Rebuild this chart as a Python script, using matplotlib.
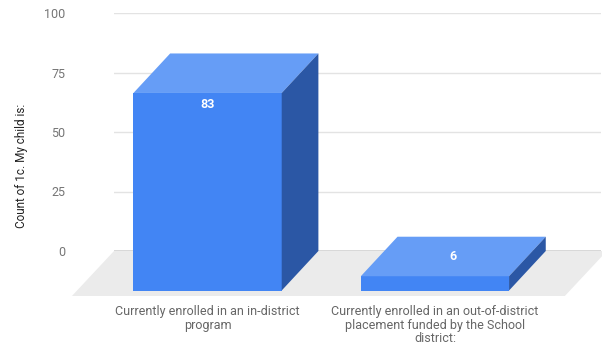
import matplotlib
matplotlib.use("Agg")
import matplotlib.pyplot as plt
from matplotlib.patches import Polygon

categories = [
    "Currently enrolled in an in-district\nprogram",
    "Currently enrolled in an out-of-district\nplacement funded by the School\ndistrict:",
]
counts = [83, 6]
y_ticks = [0, 25, 50, 75, 100]

FRONT = "#4285f4"
TOP = "#669df6"
SIDE = "#2b57a5"
FLOOR = "#ebebeb"

# depth of the 3d effect, in data units (back plane -> front plane)
depth_x, depth_y = 0.1614, 16.6
floor_dx, floor_dy = 0.185, 18.9
half_w = 0.326

plt.rcParams["font.family"] = ["Roboto", "DejaVu Sans"]

fig = plt.figure(figsize=(6.02, 3.46), dpi=100)
ax = fig.add_axes([114 / 602, 95 / 346, 487 / 602, 238 / 346])
ax.set_xlim(-0.573, 1.569)
ax.set_ylim(0, 100)

xs = list(range(len(counts)))

# floor
x0, x1 = -0.573, 1.595
floor = Polygon([(x0, 0), (x1, 0), (x1 - floor_dx, -floor_dy), (x0 - floor_dx, -floor_dy)],
                closed=True, facecolor=FLOOR, edgecolor="none", zorder=0.3, clip_on=False)
ax.add_patch(floor)

ax.set_yticks(y_ticks)
ax.yaxis.grid(True, color="#e3e3e3", linewidth=1)
ax.set_axisbelow(True)
ax.axhline(0, color="#555555", linewidth=1, zorder=1)

for c, v in zip(xs, counts):
    fl, fr = c - half_w - depth_x, c + half_w - depth_x
    front = Polygon([(fl, -depth_y), (fr, -depth_y), (fr, v - depth_y), (fl, v - depth_y)],
                    facecolor=FRONT, edgecolor="none", zorder=3, clip_on=False)
    top = Polygon([(fl, v - depth_y), (fr, v - depth_y), (c + half_w, v), (c - half_w, v)],
                  facecolor=TOP, edgecolor="none", zorder=3, clip_on=False)
    side = Polygon([(fr, -depth_y), (c + half_w, 0), (c + half_w, v), (fr, v - depth_y)],
                   facecolor=SIDE, edgecolor="none", zorder=3, clip_on=False)
    for p in (front, top, side):
        ax.add_patch(p)
    # tall bars get the label on the front face, short ones on the top face
    if v > 15:
        lx, ly = c - depth_x, v - depth_y - 5
    else:
        lx, ly = c - depth_x / 2, v - depth_y / 2
    ax.text(lx, ly, str(v), color="white", fontsize=9, fontweight="bold",
            ha="center", va="center", zorder=4)

ax.set_xticks([c - depth_x for c in xs])
ax.set_xticklabels(categories, color="#666666", fontsize=9, linespacing=1.05)
ax.tick_params(axis="x", length=0, pad=39)
ax.tick_params(axis="y", length=0, pad=35, labelcolor="#757575", labelsize=9)

ax.set_ylabel("Count of 1c. My child is:", color="#222222", fontsize=8.5)
ax.yaxis.set_label_coords(-0.177, 0.357)

for s in ax.spines.values():
    s.set_visible(False)

fig.savefig("out.png", dpi=100)
